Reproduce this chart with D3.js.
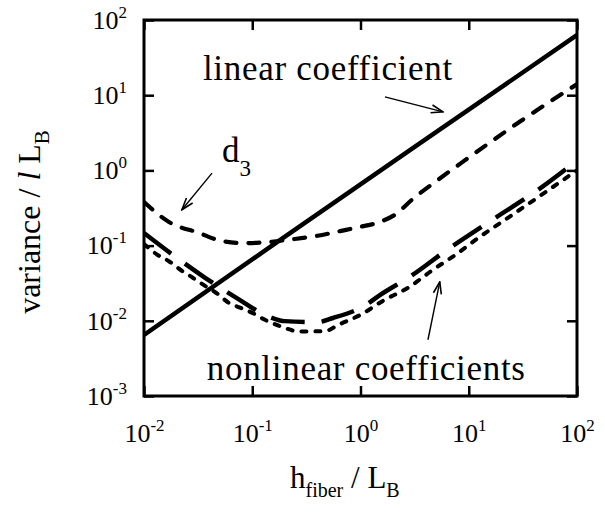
<!DOCTYPE html>
<html>
<head>
<meta charset="utf-8">
<script src="https://cdn.jsdelivr.net/npm/d3@7"></script>
<style>
  body { margin: 0; background: #fff; }
  text { font-family: "Liberation Serif", "Times New Roman", serif; fill: #000; }
</style>
</head>
<body>
<div id="chart"></div>
<script>
// values
var xTicks = [0.01, 0.1, 1, 10, 100];
var xTickExp = ["-2", "-1", "0", "1", "2"];
var yTicks = [0.001, 0.01, 0.1, 1, 10, 100];
var yTickExp = ["-3", "-2", "-1", "0", "1", "2"];

// linear coefficient (solid)
var linX = [0.01, 0.18, 3.55, 100];
var linY = [0.0065, 0.118, 2.3, 63];

// d3 (medium dashes)
var d3X = [0.01, 0.017, 0.032, 0.05, 0.085, 0.146, 0.22, 0.40, 0.65, 1.0, 1.5, 2.1, 3.0, 5.0, 10, 30, 100];
var d3Y = [0.38, 0.206, 0.148, 0.117, 0.108, 0.112, 0.12, 0.135, 0.156, 0.178, 0.206, 0.26, 0.41, 0.72, 1.48, 4.5, 14];

// nonlinear coefficients (long dashes, short dashes)
var longX = [0.01, 0.0185, 0.037, 0.072, 0.146, 0.20, 0.40, 0.557, 1.10, 1.51, 3.05, 5.9, 16.4, 46, 100];
var longY = [0.147, 0.075, 0.037, 0.020, 0.0112, 0.0099, 0.0096, 0.0109, 0.016, 0.022, 0.041, 0.082, 0.219, 0.58, 1.35];
var shortX = [0.01, 0.0132, 0.017, 0.022, 0.028, 0.0355, 0.0488, 0.060, 0.077, 0.103, 0.131, 0.184, 0.276, 0.47, 0.63, 1.01, 1.63, 2.77, 4.6, 7.6, 12.4, 20.5, 100];
var shortY = [0.105, 0.076, 0.062, 0.047, 0.0377, 0.030, 0.0224, 0.0175, 0.015, 0.0125, 0.0103, 0.0084, 0.0072, 0.0073, 0.0089, 0.0121, 0.0186, 0.0277, 0.047, 0.076, 0.128, 0.209, 1.0];

var margin = { top: 20, right: 28, bottom: 124, left: 144 },
    width = 605 - margin.left - margin.right,
    height = 520 - margin.top - margin.bottom;

var svg = d3.select("#chart")
    .append("svg")
    .attr("width", 605)
    .attr("height", 520)
    .append("g")
    .attr("transform", "translate(" + margin.left + "," + margin.top + ")");

var x = d3.scaleLog().domain([0.01, 100]).range([0, width]);
var y = d3.scaleLog().domain([0.001, 100]).range([height, 0]);

svg.append("defs").append("clipPath").attr("id", "clip")
    .append("rect").attr("width", width).attr("height", height);

// axes, ticks pointing inward on all four sides
function supLabels(sel, exps) {
    sel.selectAll(".tick text").each(function (d, i) {
        var t = d3.select(this).text(null).attr("font-size", 26);
        t.append("tspan").text("10");
        t.append("tspan").attr("dy", -11).attr("font-size", 17).text(exps[i]);
    });
}

var gx = svg.append("g")
    .attr("transform", "translate(0," + height + ")")
    .call(d3.axisBottom(x).tickValues(xTicks).tickSize(-10).tickPadding(28));
supLabels(gx, xTickExp);

var gy = svg.append("g")
    .call(d3.axisLeft(y).tickValues(yTicks).tickSize(-10).tickPadding(17));
supLabels(gy, yTickExp);

svg.append("g")
    .call(d3.axisTop(x).tickValues(xTicks).tickSize(-10).tickFormat(""));
svg.append("g")
    .attr("transform", "translate(" + width + ",0)")
    .call(d3.axisRight(y).tickValues(yTicks).tickSize(-10).tickFormat(""));

svg.selectAll(".domain").remove();
svg.selectAll(".tick line").attr("stroke", "#000").attr("stroke-width", 2.5);
svg.selectAll(".tick text").attr("fill", "#000").attr("font-family", "Liberation Serif, serif");

svg.append("rect")
    .attr("width", width).attr("height", height)
    .attr("fill", "none").attr("stroke", "#000").attr("stroke-width", 3);

// curves
var line = d3.line()
    .x(function (d) { return x(d[0]); })
    .y(function (d) { return y(d[1]); })
    .curve(d3.curveMonotoneX);

function zip(a, b) { return a.map(function (v, i) { return [v, b[i]]; }); }

var curves = svg.append("g").attr("clip-path", "url(#clip)");

curves.append("path").datum(zip(linX, linY))
    .attr("d", line).attr("fill", "none").attr("stroke", "#000")
    .attr("stroke-width", 4.5);

curves.append("path").datum(zip(d3X, d3Y))
    .attr("d", line).attr("fill", "none").attr("stroke", "#000")
    .attr("stroke-width", 4.2).attr("stroke-linecap", "round")
    .attr("stroke-dasharray", "11,12");

curves.append("path").datum(zip(longX, longY))
    .attr("d", line).attr("fill", "none").attr("stroke", "#000")
    .attr("stroke-width", 4.5)
    .attr("stroke-dasharray", "34,17");

curves.append("path").datum(zip(shortX, shortY))
    .attr("d", line).attr("fill", "none").attr("stroke", "#000")
    .attr("stroke-width", 4).attr("stroke-linecap", "round")
    .attr("stroke-dasharray", "5,9");

// annotations
svg.append("defs").append("marker")
    .attr("id", "head")
    .attr("viewBox", "0 0 14 10")
    .attr("refX", 13).attr("refY", 5)
    .attr("markerWidth", 14).attr("markerHeight", 10)
    .attr("markerUnits", "userSpaceOnUse")
    .attr("orient", "auto")
    .append("path")
    .attr("d", "M1,1 L13,5 L1,9")
    .attr("fill", "none").attr("stroke", "#000").attr("stroke-width", 1.6);

var arrows = [
    [1.68, 9.5, 5.8, 6.0],
    [0.0425, 0.92, 0.0224, 0.30],
    [4.2, 0.0056, 5.4, 0.033]
];
svg.selectAll(".arrow").data(arrows).enter().append("line")
    .attr("class", "arrow")
    .attr("x1", function (d) { return x(d[0]); })
    .attr("y1", function (d) { return y(d[1]); })
    .attr("x2", function (d) { return x(d[2]); })
    .attr("y2", function (d) { return y(d[3]); })
    .attr("stroke", "#000").attr("stroke-width", 1.4)
    .attr("marker-end", "url(#head)");

svg.append("text")
    .attr("x", x(0.035)).attr("y", y(16))
    .attr("font-size", 35).attr("letter-spacing", 0.7)
    .text("linear coefficient");

svg.append("text")
    .attr("x", x(0.038)).attr("y", y(0.00163))
    .attr("font-size", 35).attr("letter-spacing", 0.7)
    .text("nonlinear coefficients");

var dLab = svg.append("text")
    .attr("x", x(0.0525)).attr("y", y(1.3))
    .attr("font-size", 35);
dLab.append("tspan").text("d");
dLab.append("tspan").attr("dy", 14).attr("font-size", 23).text("3");

// axis titles
var xt = svg.append("text")
    .attr("x", 290 - margin.left).attr("y", 488 - margin.top)
    .attr("font-size", 31);
xt.append("tspan").text("h");
xt.append("tspan").attr("dy", 9).attr("font-size", 20).text("fiber");
xt.append("tspan").attr("dy", -9).text(" / L");
xt.append("tspan").attr("dy", 9).attr("font-size", 20).text("B");

var yt = svg.append("text")
    .attr("transform", "translate(" + (40 - margin.left) + "," + (height / 2 + 14) + ") rotate(-90)")
    .attr("text-anchor", "middle")
    .attr("font-size", 32);
yt.append("tspan").text("variance / ");
yt.append("tspan").attr("font-style", "italic").text("l");
yt.append("tspan").text(" L");
yt.append("tspan").attr("dy", 9).attr("font-size", 21).text("B");
</script>
</body>
</html>
